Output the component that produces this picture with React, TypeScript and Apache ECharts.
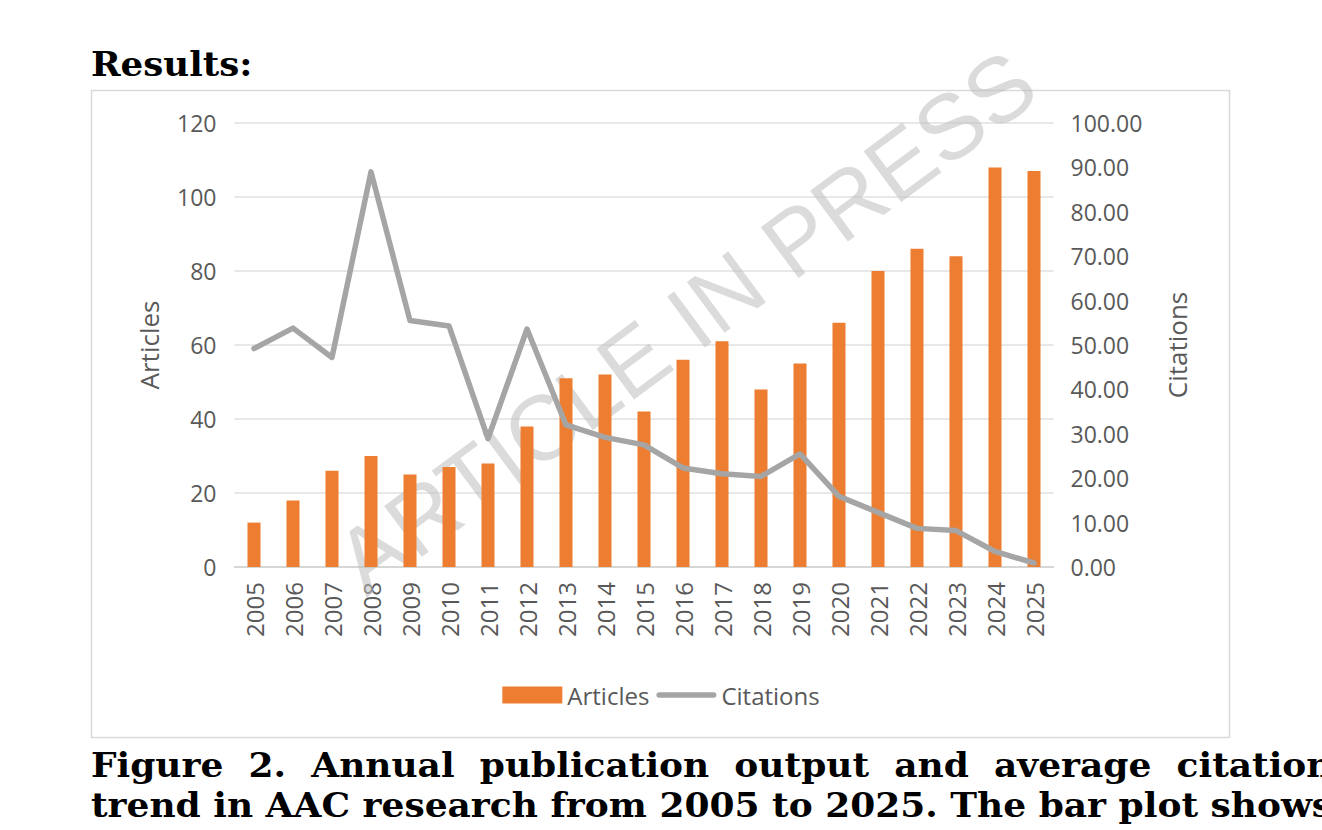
import React, { useEffect, useRef } from "react";
import * as echarts from "echarts";

const years = ["2005","2006","2007","2008","2009","2010","2011","2012","2013","2014","2015","2016","2017","2018","2019","2020","2021","2022","2023","2024","2025"];
const articles = [12, 18, 26, 30, 25, 27, 28, 38, 51, 52, 42, 56, 61, 48, 55, 66, 80, 86, 84, 108, 107];
const citations = [49.2, 53.8, 47.2, 89.0, 55.5, 54.3, 28.9, 53.6, 32.0, 29.2, 27.5, 22.3, 21.0, 20.4, 25.5, 15.9, 12.3, 8.7, 8.2, 3.5, 0.9];

const titleText = "Results:";
const captionLine1 = "Figure 2. Annual publication output and average citation";
const captionLine2 = "trend in AAC research from 2005 to 2025. The bar plot shows";
const watermarkText = "ARTICLE IN PRESS";

const labelColor = "#595959";
const labelFont = "'Open Sans', sans-serif";

export default function App() {
  const ref = useRef<HTMLDivElement>(null);
  useEffect(() => {
    if (!ref.current) return;
    const chart = echarts.init(ref.current, null, { renderer: "svg" });
    chart.setOption({
      animation: false,
      backgroundColor: "transparent",
      grid: { left: 234.5, right: 268.5, top: 123, bottom: 263, containLabel: false },
      legend: {
        data: [
          { name: "Articles", icon: "rect" },
          {
            name: "Citations",
            icon: "path://M3,0 L62,0 A3,3 0 0 1 62,6 L3,6 A3,3 0 0 1 3,0 Z",
          },
        ],
        left: "center",
        top: 683,
        padding: 0,
        itemWidth: 60,
        itemHeight: 17,
        itemGap: 7,
        textStyle: { color: labelColor, fontSize: 24, fontFamily: labelFont },
      },
      graphic: [
        {
          type: "rect",
          z: 0,
          shape: { x: 91.5, y: 90.5, width: 1138, height: 647 },
          style: { fill: "none", stroke: "#d9d9d9", lineWidth: 1.5 },
        },
        {
          type: "text",
          z: 1,
          x: 686,
          y: 322,
          rotation: (36.5 * Math.PI) / 180,
          style: {
            text: watermarkText,
            fontSize: 92,
            fontFamily: "'Liberation Sans', Arial, sans-serif",
            fill: "rgba(190,190,190,0.55)",
            align: "center",
            verticalAlign: "middle",
          },
        },
      ],
      xAxis: {
        type: "category",
        data: years,
        axisTick: { show: false },
        axisLine: { lineStyle: { color: "#d0d0d0", width: 1.5 } },
        axisLabel: {
          rotate: 90,
          margin: 15,
          color: labelColor,
          fontSize: 24,
          fontFamily: labelFont,
        },
      },
      yAxis: [
        {
          type: "value",
          min: 0,
          max: 120,
          interval: 20,
          name: "Articles",
          nameLocation: "middle",
          nameGap: 73,
          nameTextStyle: { color: labelColor, fontSize: 26, fontFamily: labelFont },
          axisLine: { show: false },
          axisTick: { show: false },
          axisLabel: { margin: 18, color: labelColor, fontSize: 23, fontFamily: labelFont },
          splitLine: { lineStyle: { color: "#e0e0e0", width: 1.5 } },
        },
        {
          type: "value",
          min: 0,
          max: 100,
          interval: 10,
          name: "Citations",
          nameLocation: "middle",
          nameRotate: 90,
          nameGap: 110,
          nameTextStyle: { color: labelColor, fontSize: 26, fontFamily: labelFont },
          axisLine: { show: false },
          axisTick: { show: false },
          axisLabel: {
            margin: 17,
            color: labelColor,
            fontSize: 23,
            fontFamily: labelFont,
            formatter: (v: number) => v.toFixed(2),
          },
          splitLine: { show: false },
        },
      ],
      series: [
        {
          name: "Articles",
          type: "bar",
          data: articles,
          barWidth: 13,
          yAxisIndex: 0,
          itemStyle: { color: "#ED7D31" },
          z: 2,
        },
        {
          name: "Citations",
          type: "line",
          data: citations,
          yAxisIndex: 1,
          symbol: "none",
          showSymbol: false,
          lineStyle: { color: "#A5A5A5", width: 5.5, cap: "round", join: "round" },
          itemStyle: { color: "#A5A5A5" },
          z: 3,
        },
      ],
    });
    return () => chart.dispose();
  }, []);

  const serif = "'DejaVu Serif', serif";
  const textBase: React.CSSProperties = {
    position: "absolute",
    left: 91,
    fontFamily: serif,
    fontWeight: "bold",
    fontSize: 33,
    lineHeight: "40px",
    color: "#000",
    transformOrigin: "0 0",
  };
  return (
    <div
      style={{
        position: "fixed",
        left: 0,
        top: 0,
        width: 1322,
        height: 830,
        overflow: "hidden",
        background: "#fff",
      }}
    >
      <div ref={ref} style={{ position: "absolute", left: 0, top: 0, width: 1322, height: 830 }} />
      <div style={{ ...textBase, top: 44.6, whiteSpace: "nowrap", transform: "scaleX(1.08)" }}>
        {titleText}
      </div>
      <div
        style={{
          ...textBase,
          top: 745.6,
          width: 1139,
          textAlign: "justify",
          textAlignLast: "justify",
          transform: "scaleX(1.09)",
        }}
      >
        {captionLine1}
      </div>
      <div style={{ ...textBase, top: 785.6, whiteSpace: "nowrap", transform: "scaleX(1.09)" }}>
        {captionLine2}
      </div>
    </div>
  );
}
